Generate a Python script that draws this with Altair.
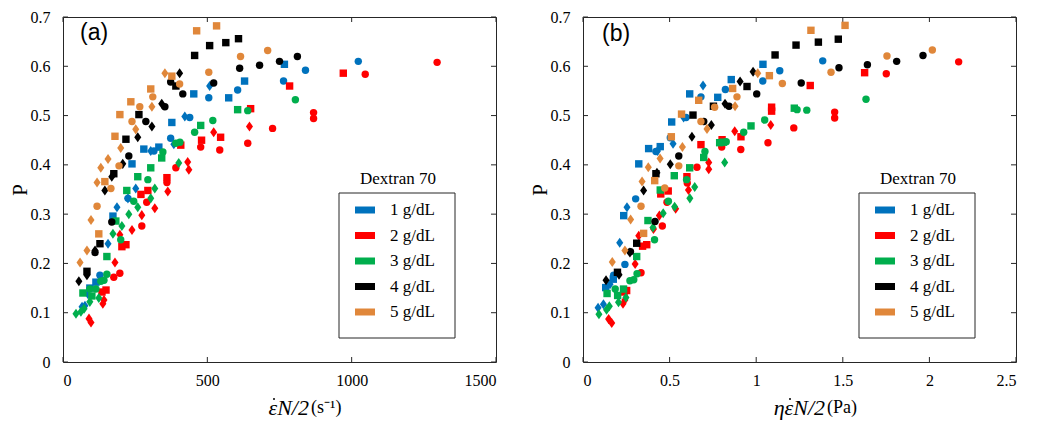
import altair as alt
import pandas as pd

conc = ["1 g/dL", "2 g/dL", "3 g/dL", "4 g/dL", "5 g/dL"]
colors = ["#0072BD", "#FF0000", "#00AE4D", "#000000", "#E0873A"]
shape_names = ["square", "circle", "diamond"]
DIAMOND = "M0,-1.35L0.95,0L0,1.35L-0.95,0Z"

# ---------- panel (a): strain rate (1/s) vs P ----------
a_blue_sq = [(767,.604),(629,.570),(453,.544),(574,.536),(377,.486),(332,.436),(280,.432),(239,.402),(173,.296),(114,.162),(93,.150)]
a_blue_ci = [(1023,.610),(840,.592),(764,.570),(605,.552),(505,.536),(439,.496),(373,.454),(315,.428),(225,.332),(128,.176)]
a_blue_di = [(508,.560),(422,.498),(384,.442),(304,.428),(252,.352),(225,.332),(187,.314),(156,.240),(86,.138),(76,.114),(66,.112)]

a_red_sq = [(971,.586),(785,.560),(650,.514),(546,.456),(480,.450),(408,.440),(360,.374),(294,.348),(270,.340),(218,.238),(204,.234),(149,.146),(135,.142)]
a_red_ci = [(1296,.608),(1047,.584),(868,.506),(868,.494),(726,.474),(640,.444),(543,.430),(477,.436),(391,.394),(360,.364),(290,.324),(273,.276),(197,.180),(176,.172)]
a_red_di = [(646,.478),(522,.466),(432,.406),(436,.390),(363,.346),(318,.312),(273,.298),(239,.268),(197,.258),(180,.202),(142,.126),(138,.118),(90,.088),(97,.080)]

a_green_sq = [(605,.512),(477,.480),(342,.414),(304,.394),(259,.376),(221,.348),(183,.286),(152,.214),(69,.140),(100,.134)]
a_green_ci = [(805,.532),(640,.510),(519,.490),(456,.466),(405,.446),(391,.444),(346,.426),(294,.370),(245,.326),(200,.248),(152,.178),(142,.166),(131,.164),(114,.148),(93,.148)]
a_green_di = [(401,.404),(318,.352),(304,.332),(259,.314),(228,.300),(204,.276),(173,.260),(124,.130),(93,.122),(73,.108),(62,.102),(45,.098)]

a_black_sq = [(608,.656),(564,.648),(508,.642),(456,.622),(391,.560),(263,.502),(218,.452),(176,.382),(128,.240),(83,.184)]
a_black_ci = [(812,.620),(750,.610),(681,.602),(612,.596),(522,.566),(415,.544),(373,.568),(353,.518),(287,.488),(228,.418),(169,.284),(111,.222)]
a_black_di = [(404,.586),(342,.524),(308,.478),(259,.456),(207,.402),(169,.376),(145,.348),(111,.226),(83,.176),(55,.164)]

a_orange_sq = [(532,.682),(463,.672),(377,.580),(304,.554),(235,.528),(197,.502),(180,.458),(145,.366),(124,.260)]
a_orange_ci = [(709,.632),(615,.620),(505,.588),(404,.564),(311,.538),(266,.518),(239,.488),(194,.398),(166,.352),(118,.316)]
a_orange_di = [(353,.586),(308,.518),(252,.472),(200,.434),(156,.412),(131,.394),(118,.364),(97,.288),(83,.226),(59,.202)]

# ---------- panel (b): stress (Pa) vs P ----------
b_blue_sq = [(1.039,.604),(.856,.573),(.778,.537),(.616,.544),(.512,.487),(.446,.437),(.379,.433),(.322,.402),(.235,.297),(.175,.168),(.131,.151)]
b_blue_ci = [(1.384,.611),(1.136,.591),(1.038,.570),(.822,.553),(.681,.538),(.595,.496),(.504,.455),(.421,.427),(.304,.331),(.242,.198),(.177,.176)]
b_blue_di = [(.693,.561),(.581,.496),(.520,.443),(.430,.428),(.254,.314),(.212,.242),(.156,.158),(.118,.117),(.087,.110)]

b_red_sq = [(1.626,.587),(1.312,.561),(1.089,.517),(1.089,.509),(.912,.457),(.803,.451),(.681,.441),(.600,.376),(.492,.347),(.449,.341),(.368,.238),(.344,.235),(.252,.145),(.237,.142)]
b_red_ci = [(2.169,.609),(1.751,.585),(1.453,.507),(1.453,.495),(1.217,.475),(1.068,.445),(.911,.431),(.801,.436),(.658,.395),(.602,.363),(.485,.324),(.458,.276),(.335,.181)]
b_red_di = [(1.084,.481),(.876,.468),(.726,.405),(.726,.391),(.609,.349),(.535,.311),(.441,.297),(.407,.270),(.322,.256),(.301,.199),(.231,.118),(.242,.126),(.148,.087),(.166,.079)]

b_green_sq = [(1.220,.515),(.970,.479),(.789,.445),(.810,.446),(.697,.415),(.616,.394),(.527,.378),(.446,.349),(.375,.287),(.310,.214),(.234,.148),(.200,.135),(.139,.139)]
b_green_ci = [(1.634,.533),(1.292,.511),(1.236,.512),(1.049,.491),(.928,.466),(.827,.447),(.704,.427),(.598,.370),(.493,.326),(.413,.248),(.312,.179),(.293,.167),(.271,.165),(.186,.148)]
b_green_di = [(.818,.405),(.645,.355),(.617,.332),(.529,.315),(.463,.302),(.404,.273),(.248,.131),(.205,.121),(.152,.113),(.136,.106),(.092,.097)]

b_black_sq = [(1.474,.655),(1.359,.649),(1.230,.643),(1.109,.623),(.947,.559),(.753,.519),(.635,.501),(.421,.382),(.310,.241),(.199,.182)]
b_black_ci = [(1.963,.622),(1.811,.610),(1.642,.603),(1.478,.597),(1.260,.566),(1.003,.544),(.843,.519),(.697,.488),(.553,.418),(.416,.285),(.274,.224)]
b_black_di = [(.982,.589),(.907,.569),(.820,.524),(.741,.481),(.629,.457),(.504,.401),(.427,.384),(.350,.348),(.271,.222),(.208,.177),(.133,.166)]

b_orange_sq = [(1.513,.683),(1.316,.673),(1.076,.581),(.864,.555),(.668,.531),(.569,.503),(.510,.457),(.414,.368),(.350,.261)]
b_orange_ci = [(2.017,.633),(1.755,.621),(1.432,.588),(1.151,.565),(.889,.538),(.760,.517),(.681,.488),(.553,.398),(.472,.353),(.335,.316)]
b_orange_di = [(1.009,.586),(.878,.519),(.716,.473),(.574,.436),(.445,.413),(.377,.395),(.341,.366),(.275,.289),(.242,.226),(.169,.203)]

a_x_ticks = [0, 500, 1000, 1500]
b_x_ticks = [0, 0.5, 1, 1.5, 2, 2.5]
y_ticks = [0, 0.1, 0.2, 0.3, 0.4, 0.5, 0.6, 0.7]

a_sets = [[a_blue_sq, a_blue_ci, a_blue_di], [a_red_sq, a_red_ci, a_red_di],
          [a_green_sq, a_green_ci, a_green_di], [a_black_sq, a_black_ci, a_black_di],
          [a_orange_sq, a_orange_ci, a_orange_di]]
b_sets = [[b_blue_sq, b_blue_ci, b_blue_di], [b_red_sq, b_red_ci, b_red_di],
          [b_green_sq, b_green_ci, b_green_di], [b_black_sq, b_black_ci, b_black_di],
          [b_orange_sq, b_orange_ci, b_orange_di]]


def build(sets):
    rows = []
    for ci, trio in enumerate(sets):
        for si, pts in enumerate(trio):
            for (x, p) in pts:
                rows.append({"x": x, "p": p, "conc": conc[ci], "shape": shape_names[si], "order": ci})
    return pd.DataFrame(rows)


W, H = 433, 345
FRAME = "#262626"
SERIF = "Liberation Serif"
TY = H + 46


def panel(df, xmax, xticks, title_it, title_up, split_x, eps_x, tag, tag_x, tag_y):
    xs = alt.Scale(domain=[0, xmax], nice=False, zero=True)
    ys = alt.Scale(domain=[0, 0.7], nice=False)
    xaxis = alt.Axis(values=xticks, format=".4~r", title=None, labelPadding=10)
    yaxis = alt.Axis(values=y_ticks, format=".4~r", title="P", labelPadding=13, titlePadding=0)
    pts = alt.Chart(df).mark_point(filled=True, opacity=1, size=55, strokeWidth=0).encode(
        x=alt.X("x:Q", scale=xs, axis=xaxis),
        y=alt.Y("p:Q", scale=ys, axis=yaxis),
        color=alt.Color("conc:N", scale=alt.Scale(domain=conc, range=colors),
                        legend=alt.Legend(title=None, orient="none", legendX=292, legendY=183,
                                          symbolType="M-1,-0.35H1V0.35H-1Z", symbolSize=400,
                                          symbolStrokeWidth=0, symbolOpacity=1,
                                          labelFont=SERIF, labelFontSize=17, labelColor="black",
                                          labelOffset=15, rowPadding=7.5, padding=0)),
        shape=alt.Shape("shape:N", scale=alt.Scale(domain=shape_names,
                                                   range=["square", "circle", DIAMOND]),
                        legend=None),
        order="order:Q",
    )
    xt = pd.DataFrame({"x": xticks})
    yt = pd.DataFrame({"p": y_ticks})
    tick_b = alt.Chart(xt).mark_rule(color=FRAME).encode(
        x=alt.X("x:Q", scale=xs, axis=xaxis), y=alt.value(H), y2=alt.value(H - 5))
    tick_t = alt.Chart(xt).mark_rule(color=FRAME).encode(
        x=alt.X("x:Q", scale=xs, axis=xaxis), y=alt.value(0), y2=alt.value(5))
    tick_l = alt.Chart(yt).mark_rule(color=FRAME).encode(
        y=alt.Y("p:Q", scale=ys, axis=yaxis), x=alt.value(0), x2=alt.value(5))
    tick_r = alt.Chart(yt).mark_rule(color=FRAME).encode(
        y=alt.Y("p:Q", scale=ys, axis=yaxis), x=alt.value(W), x2=alt.value(W - 5))
    one = pd.DataFrame({"a": [0]})
    box = alt.Chart(one).mark_rect(fillOpacity=0, stroke=FRAME, strokeWidth=1).encode(
        x=alt.value(276), x2=alt.value(392), y=alt.value(176), y2=alt.value(321))
    dex = alt.Chart(pd.DataFrame({"s": ["Dextran 70"]})).mark_text(
        font=SERIF, fontSize=17, align="center", baseline="middle", color="black").encode(
        text="s:N", x=alt.value(335), y=alt.value(162))
    tagm = alt.Chart(pd.DataFrame({"s": [tag]})).mark_text(
        font="Liberation Sans", fontSize=23, align="left", baseline="middle", color="black").encode(
        text="s:N", x=alt.value(tag_x), y=alt.value(tag_y))
    t_it = alt.Chart(pd.DataFrame({"s": [title_it]})).mark_text(
        font=SERIF, fontSize=22, fontStyle="italic", align="right", baseline="middle",
        color="black").encode(text="s:N", x=alt.value(split_x), y=alt.value(TY))
    t_dot = alt.Chart(one).mark_point(filled=True, shape="circle", size=4, opacity=1,
                                      color="black", strokeWidth=0).encode(
        x=alt.value(eps_x), y=alt.value(TY - 9))
    t_up = alt.Chart(pd.DataFrame({"s": [title_up]})).mark_text(
        font=SERIF, fontSize=18, align="left", baseline="middle",
        color="black").encode(text="s:N", x=alt.value(split_x + 2), y=alt.value(TY))
    return alt.layer(box, tick_b, tick_t, tick_l, tick_r, pts, dex, tagm, t_it, t_dot, t_up).properties(
        width=W, height=H)


pa = panel(build(a_sets), 1500, a_x_ticks, "\u03b5N/2", "(s\u207b\u00b9)", 246, 211, "(a)", 17, 16)
pb = panel(build(b_sets), 2.5, b_x_ticks, "\u03b7\u03b5N/2", "(Pa)", 242, 207, "(b)", 19, 17)

chart = alt.hconcat(pa, pb, spacing=87, bounds="flush").resolve_scale(
    color="independent", shape="independent").properties(
    padding={"left": 0, "top": 0, "right": 0, "bottom": 0}
).configure_view(stroke=FRAME, strokeWidth=1).configure_axis(
    domain=False, ticks=False, grid=False, labelFont=SERIF, labelFontSize=16,
    labelColor="black", titleFont=SERIF, titleFontSize=21, titleFontWeight="normal",
    titleColor="black")

chart.save("out.html", embed_options={"renderer": "svg", "actions": False})
